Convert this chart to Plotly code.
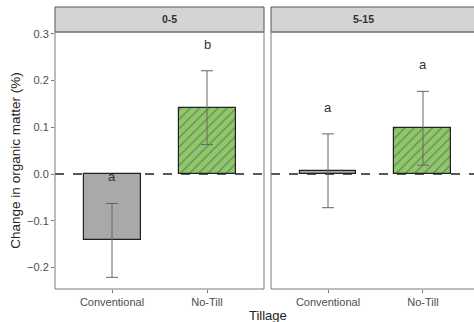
import plotly.graph_objects as go

categories = ["Conventional", "No-Till"]
depths = ["0-5", "5-15"]
means_0_5 = [-0.142, 0.142]
err_0_5 = [0.079, 0.079]
means_5_15 = [0.007, 0.098]
err_5_15 = [0.079, 0.079]
letters_0_5 = ["a", "b"]
letter_y_0_5 = [-0.006, 0.278]
letters_5_15 = ["a", "a"]
letter_y_5_15 = [0.142, 0.235]
y_ticks = [-0.2, -0.1, 0.0, 0.1, 0.2, 0.3]

W, H = 474, 322
ML, MT, MB = 55, 32, 33
plot_w = W - ML
plot_h = H - MT - MB

colors = ["#a9a9a9", "#8fc76b"]
patterns = ["", "/"]

fig = go.Figure()
for i, (means, errs, xa, ya) in enumerate([(means_0_5, err_0_5, "x", "y"), (means_5_15, err_5_15, "x2", "y2")]):
    fig.add_trace(go.Bar(
        x=categories, y=means, width=0.6, xaxis=xa, yaxis=ya,
        marker=dict(color=colors, line=dict(color="#222222", width=1.2),
                    pattern=dict(shape=patterns, fgcolor="#24391a", size=6.5, solidity=0.2)),
        error_y=dict(type="data", array=errs, visible=True, color="#666666", thickness=1, width=6),
        showlegend=False, hoverinfo="skip"))

annotations = []
for letters, ly, xa, ya in [(letters_0_5, letter_y_0_5, "x", "y"), (letters_5_15, letter_y_5_15, "x2", "y2")]:
    for c, l, yv in zip(categories, letters, ly):
        annotations.append(dict(x=c, y=yv, xref=xa, yref=ya, text=l, showarrow=False,
                                font=dict(size=13, color="#333333"), yanchor="middle"))

d1 = [0, 209 / plot_w]
d2 = [216 / plot_w, 1]
strip_top = 1 + 25 / plot_h

shapes = []
for xd, lab in [(d1, depths[0]), (d2, depths[1])]:
    shapes.append(dict(type="rect", xref="paper", yref="paper", x0=xd[0], x1=xd[1] + (0.01 if xd[1] == 1 else 0),
                       y0=1, y1=strip_top,
                       fillcolor="#d4d4d4", line=dict(color="#555555", width=1), layer="above"))
    cx = (xd[0] + xd[1]) / 2 if xd[1] < 1 else (xd[0] + (481 - ML) / plot_w) / 2
    annotations.append(dict(x=cx, y=(1 + strip_top) / 2, xref="paper", yref="paper",
                            text="<b>%s</b>" % lab, showarrow=False, yanchor="middle",
                            font=dict(size=10.5, color="#333333")))
for xa in ["x", "x2"]:
    shapes.append(dict(type="line", xref=xa + " domain", yref="y", x0=0, x1=1, y0=0, y1=0,
                       line=dict(color="#222222", width=1.5, dash="dash"), layer="below"))
shapes.append(dict(type="rect", xref="x domain", yref="y domain", x0=0, x1=1, y0=0, y1=1,
                   line=dict(color="#7a7a7a", width=1)))
shapes.append(dict(type="rect", xref="x2 domain", yref="y2 domain", x0=0, x1=1.2, y0=0, y1=1,
                   line=dict(color="#7a7a7a", width=1)))

annotations.append(dict(x=(268 - ML) / plot_w, y=-(315.5 - (MT + plot_h)) / plot_h, xref="paper", yref="paper",
                        text="Tillage", showarrow=False, font=dict(size=13, color="#222222"), yanchor="middle"))

axis_common = dict(showgrid=False, zeroline=False, ticks="outside", ticklen=3, tickcolor="#7a7a7a",
                   tickfont=dict(size=11, color="#4d4d4d"), showline=False, automargin=False)
fig.update_layout(
    width=W, height=H, margin=dict(l=ML, r=0, t=MT, b=MB, autoexpand=False),
    paper_bgcolor="white", plot_bgcolor="white",
    font=dict(family="Liberation Sans, Arial, sans-serif"),
    xaxis=dict(domain=d1, range=[-0.6, 1.6], type="category", **axis_common),
    xaxis2=dict(domain=d2, range=[-0.6, 1.537], type="category", **axis_common),
    yaxis=dict(range=[-0.246, 0.304], tickvals=y_ticks, tickformat=".1f", anchor="x",
               title=dict(text="Change in organic matter (%)", font=dict(size=13.5, color="#222222"), standoff=3),
               **axis_common),
    yaxis2=dict(range=[-0.246, 0.304], anchor="x2", matches="y", showticklabels=False, showgrid=False,
                zeroline=False, ticks="", automargin=False),
    shapes=shapes, annotations=annotations, bargap=0,
)
fig.write_html("out.html", config={"displayModeBar": False},
               post_script="document.body.style.margin='0';document.body.style.overflow='hidden';")
